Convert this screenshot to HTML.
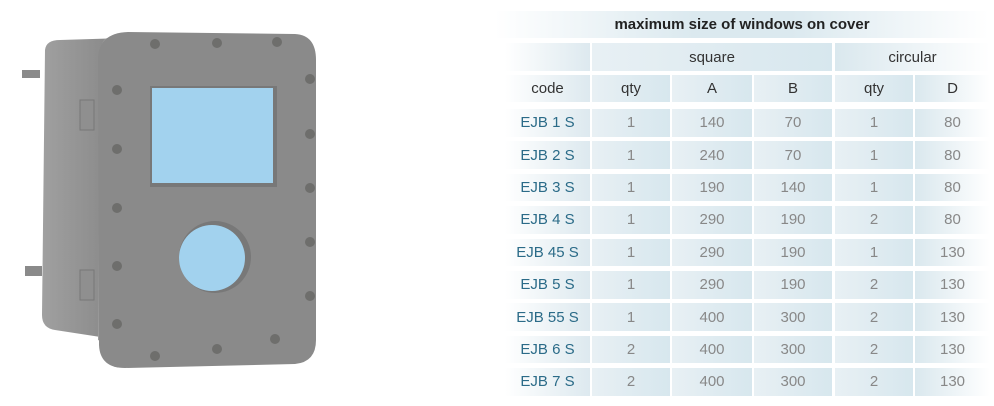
<!DOCTYPE html>
<html><head><meta charset="utf-8"><style>
body{margin:0;width:994px;height:406px;background:#fff;overflow:hidden;position:relative;font-family:"Liberation Sans",sans-serif}
.c{position:absolute;display:flex;align-items:center;justify-content:center;font-size:15px;background:linear-gradient(90deg,#e8f0f4,#d7e7ee)}
.hd{color:#333}
.cd{color:#2b6b88;background:linear-gradient(90deg,#fff,#dde9ef)}
.v{color:#888}
.last{background:linear-gradient(90deg,#dae8ee,#fff)}
</style></head><body>
<svg width="400" height="406" style="position:absolute;left:0;top:0">
<defs><linearGradient id="side" x1="0" x2="1"><stop offset="0" stop-color="#a0a0a0"/><stop offset="1" stop-color="#858585"/></linearGradient></defs>
<path d="M22 78 L40 78 L40 70 L22 70 Z M25 266 L42 266 L42 276 L25 276 Z" fill="#8a8a8a"/>
<path d="M45 50 Q46 40 60 40 L125 38 L120 340 L55 330 Q42 328 42 315 Z" fill="url(#side)"/>
<path d="M110 38 Q100 36 100 60 L98 340 L110 345 Z" fill="#9d9d9d"/>
<rect x="80" y="100" width="14" height="30" fill="#8f8f8f" stroke="#777"/>
<rect x="80" y="270" width="14" height="30" fill="#8f8f8f" stroke="#777"/>
<path d="M128 32 L295 34 Q316 35 316 60 L316 340 Q316 362 295 364 L125 368 Q100 368 99 345 L98 60 Q98 33 128 32 Z" fill="#8a8a8a"/>
<rect x="150" y="86" width="127" height="101" fill="#787878"/>
<rect x="152" y="88" width="121" height="95" fill="#a2d2ee"/>
<circle cx="215" cy="257" r="36" fill="#787878"/>
<circle cx="212" cy="258" r="33" fill="#a2d2ee"/>
<g fill="#6e6e6c">
<circle cx="155" cy="44" r="5"/><circle cx="217" cy="43" r="5"/><circle cx="277" cy="42" r="5"/>
<circle cx="117" cy="90" r="5"/><circle cx="310" cy="79" r="5"/>
<circle cx="117" cy="149" r="5"/><circle cx="310" cy="134" r="5"/>
<circle cx="117" cy="208" r="5"/><circle cx="310" cy="188" r="5"/>
<circle cx="117" cy="266" r="5"/><circle cx="310" cy="242" r="5"/>
<circle cx="117" cy="324" r="5"/><circle cx="310" cy="296" r="5"/>
<circle cx="155" cy="356" r="5"/><circle cx="217" cy="349" r="5"/><circle cx="275" cy="339" r="5"/>
</g>
</svg>
<div id="tbl"></div>
<script>
const codes=["EJB 1 S","EJB 2 S","EJB 3 S","EJB 4 S","EJB 45 S","EJB 5 S","EJB 55 S","EJB 6 S","EJB 7 S"];
const sqQty=["1","1","1","1","1","1","1","2","2"];
const sqA=["140","240","190","290","290","290","400","400","400"];
const sqB=["70","70","140","190","190","190","300","300","300"];
const ciQty=["1","1","1","2","1","2","2","2","2"];
const ciD=["80","80","80","80","130","130","130","130","130"];
const colX=[505,592,672,754,835,915], colW=[85,78,80,78,78,75];
const t=document.getElementById('tbl');
function cell(x,y,w,h,txt,cls,name){const d=document.createElement('div');d.className='c '+cls;d.style.cssText=`left:${x}px;top:${y}px;width:${w}px;height:${h}px`;d.textContent=txt;


t.appendChild(d);return d;}
const ti=cell(495,11,494,27,"maximum size of windows on cover","hd","table-title");
ti.style.background="linear-gradient(90deg,#fff,#dbe9ef 40%,#dbe9ef 60%,#fff)";ti.style.fontWeight="bold";ti.style.color="#222";
cell(505,43,85,28,"","cd","blank-header");
cell(592,43,240,28,"square","hd","square-header");
cell(835,43,155,28,"circular","hd last","circular-header");
const heads=["code","qty","A","B","qty","D"];
heads.forEach((h,i)=>{cell(colX[i],75,colW[i],27,h,'hd'+(i==0?' cd':'')+(i==5?' last':''),'column-header-'+i).style.color='#333';});
codes.forEach((c,r)=>{const y=109+r*32.4;const vals=[c,sqQty[r],sqA[r],sqB[r],ciQty[r],ciD[r]];
vals.forEach((v,i)=>cell(colX[i],y,colW[i],27.5,v,(i==0?'cd':'v')+(i==5?' last':''),'cell-r'+r+'-c'+i));});
</script>
</body></html>
